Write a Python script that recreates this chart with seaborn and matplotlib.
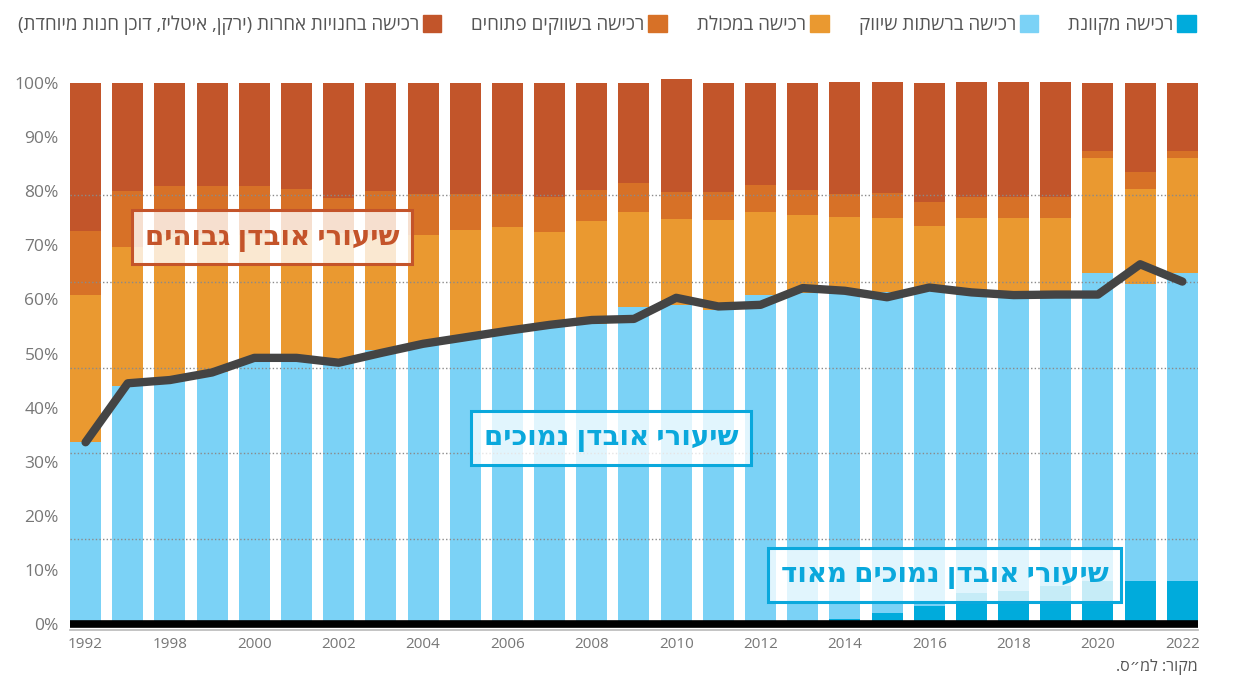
import numpy as np
import pandas as pd
import matplotlib
matplotlib.use("Agg")
import matplotlib.pyplot as plt
import seaborn as sns
from matplotlib.patches import Patch

# --- data (% of purchases) ---
years = [1992, 1997, 1998, 1999, 2000, 2001, 2002, 2003, 2004, 2005, 2006, 2007,
         2008, 2009, 2010, 2011, 2012, 2013, 2014, 2015, 2016, 2017, 2018, 2019,
         2020, 2021, 2022]
online = [0, 0, 0, 0, 0, 0, 0, 0, 0, 0, 0, 0, 0, 0, 0, 0, 0, 0.2, 0.9, 2.1, 3.4,
          5.7, 6.1, 7.1, 7.9, 8.0, 8.0]
chains = [33.6, 44.0, 45.3, 46.6, 48.5, 48.5, 48.2, 50.6, 51.6, 53.1, 54.0, 55.6,
          55.4, 58.6, 59.0, 58.0, 60.8, 61.0, 60.1, 59.2, 58.3, 55.1, 54.1, 53.1,
          57.0, 54.8, 56.9]
grocery = [27.2, 25.7, 26.6, 25.3, 23.4, 24.3, 24.1, 21.3, 20.4, 19.7, 19.4, 16.9,
           19.1, 17.6, 15.8, 16.7, 15.4, 14.4, 14.2, 13.7, 11.9, 14.2, 14.8, 14.8,
           21.2, 17.6, 21.2]
markets = [11.8, 10.3, 9.1, 9.1, 9.1, 7.6, 6.5, 8.1, 7.4, 6.6, 6.0, 6.4,
           5.7, 5.3, 5.1, 5.2, 4.9, 4.6, 4.2, 4.7, 4.4, 4.0, 4.0, 4.0,
           1.3, 3.1, 1.3]
other = [27.4, 20.0, 19.0, 19.0, 19.0, 19.6, 21.2, 20.0, 20.6, 20.6, 20.6, 21.1,
         19.8, 18.5, 20.8, 20.1, 18.9, 19.8, 20.8, 20.5, 22.0, 21.2, 21.2, 21.2,
         12.6, 16.5, 12.6]
loss_line = [33.6, 44.5, 45.1, 46.5, 49.2, 49.2, 48.3, 50.1, 51.8, 53.0, 54.2, 55.3,
             56.2, 56.4, 60.3, 58.7, 59.0, 62.1, 61.6, 60.4, 62.2, 61.3, 60.8, 60.9,
             60.9, 66.5, 63.3]
label_years = [1992, 1998, 2000, 2002, 2004, 2006, 2008, 2010, 2012, 2014, 2016,
               2018, 2020, 2022]
ytick_vals = list(range(0, 101, 10))
grid_vals = [15.7, 31.6, 47.4, 63.3, 79.3]

series_names = ["רכישה מקוונת", "רכישה ברשתות שיווק", "רכישה במכולת",
                "רכישה בשווקים פתוחים",
                "רכישה בחנויות אחרות (ירקן, איטליז, דוכן חנות מיוחדת)"]
series_colors = ["#00abdc", "#7bd2f6", "#ea9930", "#d77127", "#c2552a"]


def vis(s):
    # matplotlib has no bidi: reverse for display and mirror brackets
    swap = {"(": ")", ")": "("}
    return "".join(swap.get(c, c) for c in reversed(s))


sns.set_theme(style="white")
plt.rcParams["font.family"] = ["Open Sans", "DejaVu Sans"]

df = pd.DataFrame({"year": [str(y) for y in years], "online": online,
                   "chains": chains, "grocery": grocery, "markets": markets,
                   "other": other})
parts = ["online", "chains", "grocery", "markets", "other"]
cum = df[parts].cumsum(axis=1)

fig = plt.figure(figsize=(12.34, 6.78), dpi=100)
ax = fig.add_axes([0.0567, 0.0796, 0.9141, 0.8139])

# stacked bars: draw cumulative totals from the top layer down
for part, color in reversed(list(zip(parts, series_colors))):
    sns.barplot(x=df["year"], y=cum[part], color=color, saturation=1,
                width=0.735, linewidth=0, ax=ax, zorder=2)

for g in grid_vals:
    ax.axhline(g, color="#8a8a8a", lw=1, ls=(0, (1, 1.6)), zorder=3)

sns.lineplot(x=np.arange(len(years)), y=loss_line, color="#444444", lw=6,
             solid_capstyle="round", solid_joinstyle="round", ax=ax, zorder=5)

ax.axhline(0, color="black", lw=5.5, zorder=6, clip_on=False,
           solid_capstyle="butt")

ax.set_xlim(-0.37, len(years) - 0.63)
ax.set_ylim(0, 102)
ax.set_xlabel("")
ax.set_ylabel("")
ax.set_yticks(ytick_vals)
ax.set_yticklabels([f"{v}%" for v in ytick_vals])
ax.set_xticks([years.index(y) for y in label_years])
ax.set_xticklabels([str(y) for y in label_years])
ax.tick_params(axis="both", length=0, labelsize=11, colors="#777777")
ax.tick_params(axis="y", pad=8, labelsize=12.5)
ax.tick_params(axis="x", pad=5)
for side in ["top", "right", "left"]:
    ax.spines[side].set_visible(False)
ax.spines["bottom"].set_color("#bbbbbb")
ax.spines["bottom"].set_position(("outward", 4))

# boxed annotations
notes = [("שיעורי אובדן גבוהים", 4.42, 71.5, "#c4542a"),
         ("שיעורי אובדן נמוכים", 12.45, 34.4, "#0aa8dc"),
         ("שיעורי אובדן נמוכים מאוד", 20.37, 9.1, "#0aa8dc")]
for txt, xx, yy, col in notes:
    ax.text(xx, yy, vis(txt), color=col, fontsize=20, fontweight="bold",
            ha="center", va="center", zorder=7,
            bbox=dict(boxstyle="square,pad=0.45", fc=(1, 1, 1, 0.78),
                      ec=col, lw=2.2))

# legend, right-to-left
handles = [Patch(color=c, label=vis(n)) for n, c in zip(series_names, series_colors)]
fig.legend(handles=handles[::-1], loc="upper right", bbox_to_anchor=(0.983, 1.003),
           ncol=5, frameon=False, markerfirst=False, fontsize=13.5,
           handlelength=1.0, handleheight=1.0, handletextpad=0.2,
           columnspacing=1.6, labelcolor="#555555")

fig.text(0.971, 0.004, vis("מקור: למ״ס."), ha="right", va="bottom",
         fontsize=11.5, color="#555555")

fig.savefig("out.png", dpi=100)
